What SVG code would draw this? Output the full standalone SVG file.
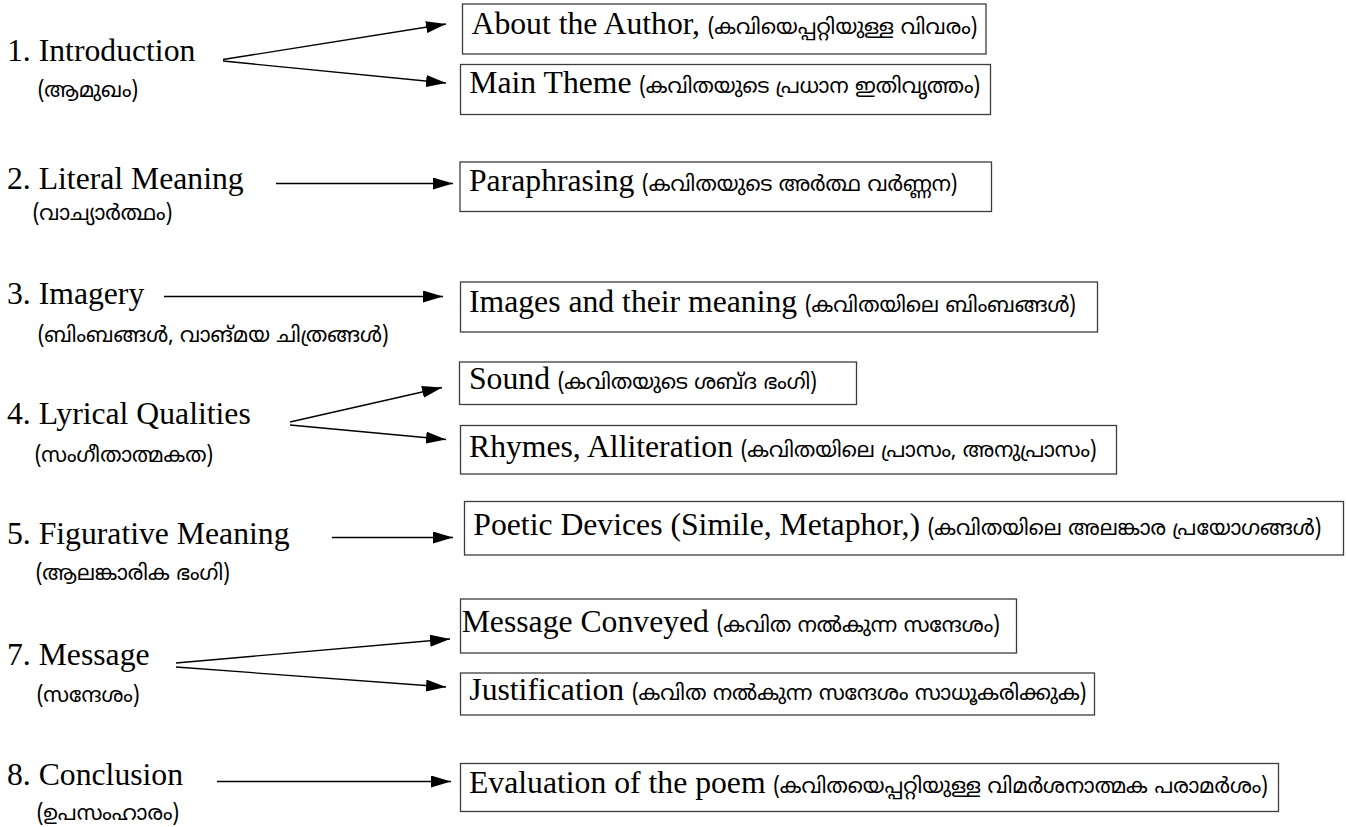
<svg xmlns="http://www.w3.org/2000/svg" width="1346" height="827" viewBox="0 0 1346 827">
<style>
.en{font-family:"Liberation Serif","Times New Roman",serif;font-size:31.7px;fill:#000}
.ml{font-family:"Noto Sans Malayalam","Noto Sans","DejaVu Sans",sans-serif;font-size:21px;fill:#000}
.box{fill:#fff;stroke:#3c3c3c;stroke-width:1.3}
.conn{stroke:#000;stroke-width:1.3;fill:none;marker-end:url(#arr)}
</style>
<defs>
<marker id="arr" markerUnits="userSpaceOnUse" markerWidth="20" markerHeight="12" refX="20" refY="6" orient="auto">
<path d="M0,0 L20,6 L0,12 z" fill="#000"/>
</marker>
</defs>
<rect width="1346" height="827" fill="#fff"/>

<g id="connectors">
<line class="conn" x1="223" y1="59.5" x2="446" y2="24"/>
<line class="conn" x1="223" y1="61" x2="446" y2="83"/>
<line class="conn" x1="276" y1="183.5" x2="453" y2="183.5"/>
<line class="conn" x1="164" y1="296.5" x2="443" y2="296.5"/>
<line class="conn" x1="290" y1="422" x2="442" y2="387.5"/>
<line class="conn" x1="290" y1="425" x2="446" y2="439.5"/>
<line class="conn" x1="332" y1="537.5" x2="453" y2="537.5"/>
<line class="conn" x1="176" y1="663" x2="450" y2="639"/>
<line class="conn" x1="176" y1="667" x2="446" y2="687"/>
<line class="conn" x1="217" y1="781.5" x2="451" y2="781.5"/>
</g>

<g id="introduction">
<text class="en" x="7" y="61">1. Introduction</text>
<text class="ml" x="38" y="97">(ആമുഖം)</text>
</g>
<g id="literal-meaning">
<text class="en" x="7" y="188.5">2. Literal Meaning</text>
<text class="ml" x="33" y="220">(വാച്യാർത്ഥം)</text>
</g>
<g id="imagery">
<text class="en" x="7" y="304">3. Imagery</text>
<text class="ml" x="38" y="342">(ബിംബങ്ങൾ, വാങ്മയ ചിത്രങ്ങൾ)</text>
</g>
<g id="lyrical-qualities">
<text class="en" x="7" y="424">4. Lyrical Qualities</text>
<text class="ml" x="35" y="462">(സംഗീതാത്മകത)</text>
</g>
<g id="figurative-meaning">
<text class="en" x="7" y="544">5. Figurative Meaning</text>
<text class="ml" x="36" y="580">(ആലങ്കാരിക ഭംഗി)</text>
</g>
<g id="message">
<text class="en" x="7" y="665">7. Message</text>
<text class="ml" x="37" y="702">(സന്ദേശം)</text>
</g>
<g id="conclusion">
<text class="en" x="7" y="785">8. Conclusion</text>
<text class="ml" x="37" y="820">(ഉപസംഹാരം)</text>
</g>

<g id="about-author">
<rect class="box" x="462.5" y="4" width="523.5" height="50"/>
<text x="471.5" y="33.5"><tspan class="en">About the Author, </tspan><tspan class="ml">(കവിയെപ്പറ്റിയുള്ള വിവരം)</tspan></text>
</g>
<g id="main-theme">
<rect class="box" x="460.5" y="64.5" width="530" height="50"/>
<text x="469.3" y="93.3"><tspan class="en">Main Theme </tspan><tspan class="ml">(കവിതയുടെ പ്രധാന ഇതിവൃത്തം)</tspan></text>
</g>
<g id="paraphrasing">
<rect class="box" x="460" y="162" width="531.5" height="49.5"/>
<text x="469" y="190.7"><tspan class="en">Paraphrasing </tspan><tspan class="ml">(കവിതയുടെ അർത്ഥ വർണ്ണന)</tspan></text>
</g>
<g id="images">
<rect class="box" x="460.5" y="282" width="637" height="50"/>
<text x="469" y="311.7"><tspan class="en">Images and their meaning </tspan><tspan class="ml">(കവിതയിലെ ബിംബങ്ങൾ)</tspan></text>
</g>
<g id="sound">
<rect class="box" x="459.5" y="362" width="397" height="42.5"/>
<text x="469" y="389.3"><tspan class="en">Sound </tspan><tspan class="ml">(കവിതയുടെ ശബ്ദ ഭംഗി)</tspan></text>
</g>
<g id="rhymes">
<rect class="box" x="460.5" y="425.5" width="656" height="48.5"/>
<text x="469" y="456.7"><tspan class="en">Rhymes, Alliteration </tspan><tspan class="ml">(കവിതയിലെ പ്രാസം, അനുപ്രാസം)</tspan></text>
</g>
<g id="poetic-devices">
<rect class="box" x="464.5" y="501.5" width="879" height="53.5"/>
<text x="473.3" y="535"><tspan class="en">Poetic Devices (Simile, Metaphor,) </tspan><tspan class="ml">(കവിതയിലെ അലങ്കാര പ്രയോഗങ്ങൾ)</tspan></text>
</g>
<g id="message-conveyed">
<rect class="box" x="460.5" y="599" width="556" height="54"/>
<text x="461.7" y="631.7"><tspan class="en">Message Conveyed </tspan><tspan class="ml">(കവിത നൽകുന്ന സന്ദേശം)</tspan></text>
</g>
<g id="justification">
<rect class="box" x="460.5" y="673" width="634" height="42"/>
<text x="469.3" y="700"><tspan class="en">Justification </tspan><tspan class="ml">(കവിത നൽകുന്ന സന്ദേശം സാധൂകരിക്കുക)</tspan></text>
</g>
<g id="evaluation">
<rect class="box" x="460.5" y="763.5" width="818" height="48"/>
<text x="469" y="793.3"><tspan class="en">Evaluation of the poem </tspan><tspan class="ml">(കവിതയെപ്പറ്റിയുള്ള വിമർശനാത്മക പരാമർശം)</tspan></text>
</g>
</svg>
